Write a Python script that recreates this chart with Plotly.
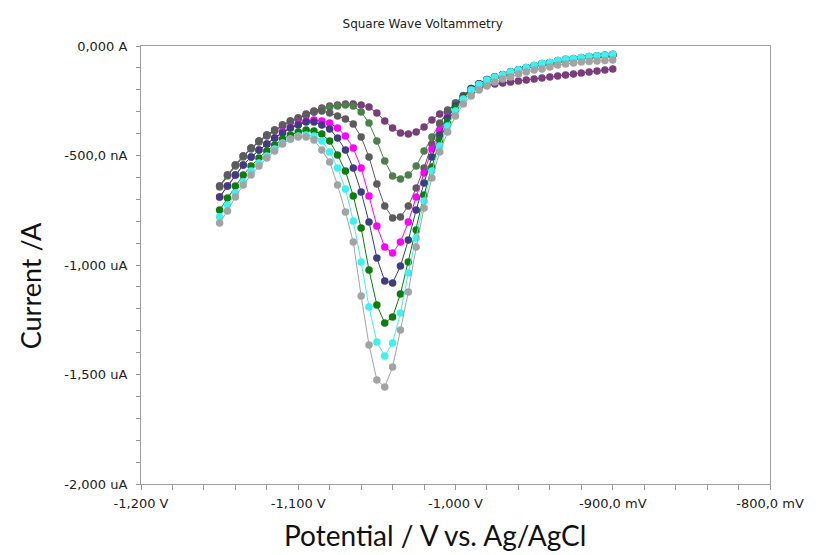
import plotly.graph_objects as go

# Potential (mV), 5 mV step from -1150 to -900 mV
potential_mv = [-1150 + 5 * k for k in range(51)]

# Currents in nA
purple = [-639, -589, -543, -502, -466, -434, -406, -384, -361, -342, -329, -310, -297, -283, -274,
          -269, -265, -265, -269, -279, -306, -342, -374, -397, -402, -393, -370, -338, -310, -292,
          -269, -233, -210, -192, -178, -174, -169, -164, -160, -155, -151, -146, -142, -137, -132,
          -128, -123, -119, -114, -110, -105]
dark_green = [-644, -594, -548, -507, -470, -438, -411, -388, -365, -347, -333, -315, -301, -288, -279,
              -274, -269, -274, -301, -352, -434, -525, -594, -607, -589, -548, -479, -416, -352, -297,
              -260, -228, -196, -174, -155, -142, -132, -119, -110, -100, -91, -82, -78, -68, -64,
              -59, -55, -50, -46, -43, -41]
dark_gray = [-639, -589, -543, -502, -466, -434, -406, -384, -361, -342, -329, -315, -301, -297, -306,
             -320, -333, -356, -416, -507, -630, -731, -785, -781, -731, -648, -557, -447, -356, -301,
             -260, -226, -194, -172, -154, -141, -131, -118, -109, -99, -90, -82, -77, -68, -63,
             -59, -54, -50, -46, -43, -40]
magenta = [-689, -639, -589, -543, -507, -475, -447, -420, -392, -372, -355, -342, -338, -342, -352,
           -374, -411, -466, -557, -685, -822, -918, -945, -895, -804, -689, -580, -470, -384, -324,
           -279, -233, -196, -174, -155, -142, -132, -119, -110, -100, -91, -82, -78, -68, -64,
           -59, -55, -50, -46, -43, -41]
navy = [-689, -639, -589, -543, -507, -475, -447, -420, -397, -374, -361, -347, -347, -361, -379,
        -420, -475, -557, -667, -804, -968, -1073, -1082, -1005, -886, -749, -626, -507, -406, -329,
        -274, -233, -194, -172, -153, -140, -130, -117, -108, -98, -89, -80, -75, -66, -61,
        -57, -52, -48, -44, -41, -38]
green = [-749, -694, -639, -589, -548, -511, -479, -452, -425, -406, -393, -384, -388, -402, -434,
         -498, -571, -685, -831, -1023, -1183, -1265, -1237, -1132, -986, -840, -680, -552, -429, -347,
         -283, -237, -201, -176, -157, -143, -133, -120, -111, -101, -92, -83, -78, -69, -64,
         -59, -55, -51, -47, -44, -42]
cyan = [-781, -726, -671, -621, -571, -534, -502, -470, -443, -425, -411, -406, -411, -434, -484,
        -557, -653, -799, -986, -1192, -1352, -1415, -1356, -1219, -1036, -877, -708, -571, -457, -365,
        -297, -242, -201, -176, -155, -141, -131, -118, -108, -98, -89, -80, -75, -66, -61,
        -57, -52, -48, -44, -41, -38]
light_gray = [-808, -753, -689, -635, -589, -548, -511, -479, -447, -425, -416, -416, -429, -475, -530,
              -635, -758, -895, -1142, -1365, -1525, -1557, -1466, -1297, -1123, -918, -740, -603, -484, -393,
              -320, -265, -228, -201, -183, -164, -151, -142, -128, -119, -110, -105, -96, -87, -82,
              -78, -73, -71, -68, -66, -64]

series = [
    (purple, "#7a3d7c"),
    (dark_green, "#4d7f4d"),
    (dark_gray, "#5c5c5c"),
    (magenta, "#ff00ff"),
    (navy, "#3d3d80"),
    (green, "#0d7d0d"),
    (cyan, "#3ff0f0"),
    (light_gray, "#a3a3a3"),
]

x_tickvals = [-1200, -1100, -1000, -900, -800]
x_ticktext = ["-1,200 V", "-1,100 V", "-1,000 V", "-900,0 mV", "-800,0 mV"]
y_tickvals = [0, -500, -1000, -1500, -2000]
y_ticktext = ["0,000 A", "-500,0 nA", "-1,000 uA", "-1,500 uA", "-2,000 uA"]

fig = go.Figure()
for vals, col in series:
    fig.add_trace(go.Scatter(
        x=potential_mv, y=vals, mode="lines+markers",
        line=dict(color=col, width=1),
        marker=dict(color=col, size=7.5, line=dict(width=0)),
        showlegend=False, hoverinfo="skip",
    ))

tickfont = dict(family="DejaVu Sans, Arial, sans-serif", size=13, color="#222222")
fig.update_layout(
    width=816, height=555,
    margin=dict(l=141, r=34, t=46, b=71),
    paper_bgcolor="white", plot_bgcolor="white",
    title=dict(text="Square Wave Voltammetry", x=0.518, xref="container", xanchor="center",
               y=0.958, yref="container", yanchor="middle",
               font=dict(family="DejaVu Sans, Arial, sans-serif", size=12, color="#222222")),
    xaxis=dict(range=[-1200, -800], tickvals=x_tickvals, ticktext=x_ticktext,
               ticks="outside", ticklen=5, tickcolor="#999999", tickfont=tickfont,
               ticklabelstandoff=2,
               minor=dict(dtick=20, tick0=-1200, ticks="outside", ticklen=5, tickcolor="#999999"),
               showgrid=False, zeroline=False, showline=True, linecolor="#a0a0a0", linewidth=1,
               mirror=True),
    yaxis=dict(range=[-2000, 0], tickvals=y_tickvals, ticktext=y_ticktext,
               ticks="outside", ticklen=4, tickcolor="#999999", tickfont=tickfont,
               ticklabelstandoff=6,
               minor=dict(dtick=100, tick0=0, ticks="outside", ticklen=4, tickcolor="#999999"),
               showgrid=False, zeroline=False, showline=True, linecolor="#a0a0a0", linewidth=1,
               mirror=True),
    annotations=[
        dict(text="Potential / V vs. Ag/AgCl", xref="paper", yref="paper", x=0.468, y=-0.117,
             xanchor="center", yanchor="middle", showarrow=False,
             font=dict(family="Lato, Open Sans, sans-serif", size=28, color="#111111")),
        dict(text="Current /A", xref="paper", yref="paper", x=-0.176, y=0.452, textangle=-90,
             xanchor="center", yanchor="middle", showarrow=False,
             font=dict(family="Lato, Open Sans, sans-serif", size=27, color="#111111")),
    ],
)

fig.write_html("out.html", config={"displayModeBar": False},
               post_script="document.body.style.margin='0';")
